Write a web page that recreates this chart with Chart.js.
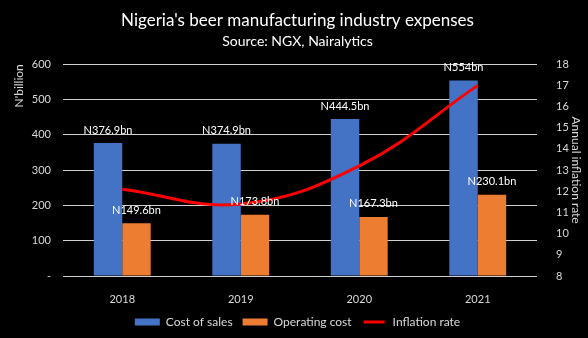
<!DOCTYPE html>
<html>
<head>
<meta charset="utf-8">
<script src="https://cdn.jsdelivr.net/npm/chart.js@4"></script>
<style>
  html, body { margin: 0; padding: 0; background: #000; }
  #wrap { width: 588px; height: 338px; }
</style>
</head>
<body>
<div id="wrap"><canvas id="chart" width="588" height="338"></canvas></div>
<script>
// beer industry expenses, N'billion + inflation %
const years = ['2018', '2019', '2020', '2021'];
const costOfSales = [376.9, 374.9, 444.5, 554];
const operatingCost = [149.6, 173.8, 167.3, 230.1];
const inflation = [12.1, 11.4, 13.2, 17.0];
const costLabels = ['N376.9bn', 'N374.9bn', 'N444.5bn', 'N554bn'];
const opLabels = ['N149.6bn', 'N173.8bn', 'N167.3bn', 'N230.1bn'];

const FONT = 'Lato, "Open Sans", sans-serif';
const TXT = '#d9d9d9';

// black background
const bg = {
  id: 'bg',
  beforeDraw(chart) {
    const c = chart.ctx;
    c.save();
    c.fillStyle = '#000';
    c.fillRect(0, 0, chart.width, chart.height);
    c.restore();
  }
};

// value text above the bars
const barLabels = {
  id: 'barLabels',
  afterDatasetsDraw(chart) {
    const c = chart.ctx;
    c.save();
    c.font = '11px ' + FONT;
    c.fillStyle = '#fff';
    c.textAlign = 'center';
    c.textBaseline = 'middle';
    [costLabels, opLabels].forEach((texts, di) => {
      chart.getDatasetMeta(di).data.forEach((bar, i) => {
        c.fillText(texts[i], bar.x, bar.y - 13);
      });
    });
    c.restore();
  }
};

new Chart(document.getElementById('chart'), {
  type: 'bar',
  data: {
    labels: years,
    datasets: [
      {
        label: 'Cost of sales',
        data: costOfSales,
        backgroundColor: '#4472C4',
        yAxisID: 'y',
        categoryPercentage: 0.48,
        barPercentage: 1,
        order: 2
      },
      {
        label: 'Operating cost',
        data: operatingCost,
        backgroundColor: '#ED7D31',
        yAxisID: 'y',
        categoryPercentage: 0.48,
        barPercentage: 1,
        order: 2
      },
      {
        type: 'line',
        label: 'Inflation rate',
        data: inflation,
        borderColor: '#FF0000',
        backgroundColor: '#FF0000',
        borderWidth: 3,
        pointRadius: 0,
        tension: 0.4,
        yAxisID: 'y1',
        order: 1
      }
    ]
  },
  options: {
    responsive: false,
    animation: false,
    layout: { padding: { left: 12, right: 5, top: 10, bottom: 0 } },
    plugins: {
      title: {
        display: true,
        text: "Nigeria's beer manufacturing industry expenses",
        color: '#fff',
        font: { family: FONT, size: 17, weight: 'normal' },
        padding: { top: 0, bottom: 3 }
      },
      subtitle: {
        display: true,
        text: 'Source: NGX, Nairalytics',
        color: '#fff',
        font: { family: FONT, size: 14, weight: 'normal' },
        padding: { top: 0, bottom: 14 }
      },
      legend: {
        position: 'bottom',
        labels: {
          color: TXT,
          font: { family: FONT, size: 12 },
          boxWidth: 25,
          boxHeight: 7,
          padding: 10,
          sort: (a, b) => a.datasetIndex - b.datasetIndex,
          generateLabels(chart) {
            const items = Chart.defaults.plugins.legend.labels.generateLabels(chart);
            items.forEach(it => {
              if (it.datasetIndex === 2) {
                it.fillStyle = '#FF0000';
                it.strokeStyle = '#000';
                it.lineWidth = 4;
              } else {
                it.lineWidth = 0;
              }
            });
            return items;
          }
        }
      },
      tooltip: { enabled: false }
    },
    scales: {
      x: {
        grid: { display: false },
        border: { display: false },
        ticks: { color: TXT, font: { family: FONT, size: 11 }, padding: 9 },
        afterFit(scale) { scale.height = 30; }
      },
      y: {
        position: 'left',
        min: 0,
        max: 600,
        ticks: {
          stepSize: 100,
          color: TXT,
          font: { family: FONT, size: 11 },
          padding: 12,
          callback: v => v === 0 ? '-' : v
        },
        grid: { color: '#d0d0d0', lineWidth: 1, drawTicks: false },
        border: { display: false },
        title: {
          display: true,
          text: "N'billion",
          align: 'end',
          color: TXT,
          font: { family: FONT, size: 12 },
          padding: 0
        },
        afterFit(scale) { scale.width = 51; }
      },
      y1: {
        position: 'right',
        min: 8,
        max: 18,
        ticks: {
          stepSize: 1,
          color: TXT,
          font: { family: FONT, size: 11 },
          padding: 11
        },
        grid: { display: false },
        border: { display: false },
        title: {
          display: true,
          text: 'Annual inflation rate',
          color: TXT,
          font: { family: FONT, size: 12 },
          padding: 0
        },
        afterFit(scale) { scale.width = 46; }
      }
    }
  },
  plugins: [bg, barLabels]
});
</script>
</body>
</html>
